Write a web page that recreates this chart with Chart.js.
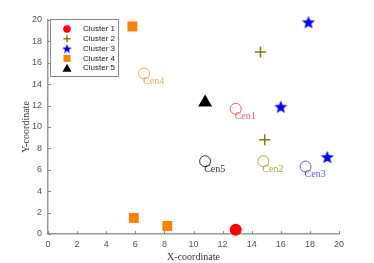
<!DOCTYPE html>
<html>
<head>
<meta charset="utf-8">
<script src="https://cdn.jsdelivr.net/npm/chart.js@4"></script>
<style>
  html, body { margin: 0; padding: 0; background: #fff; }
  #wrap { width: 374px; height: 263px; }
</style>
</head>
<body>
<div id="wrap"><canvas id="scatterChart"></canvas></div>
<script>
// Cluster points
const cluster1X = [12.9];
const cluster1Y = [0.4];
const cluster2X = [14.6, 14.9];
const cluster2Y = [17.0, 8.8];
const cluster3X = [17.9, 16.0, 19.2];
const cluster3Y = [19.8, 11.9, 7.2];
const cluster4X = [5.8, 5.9, 8.2];
const cluster4Y = [19.4, 1.5, 0.75];
const cluster5X = [10.8];
const cluster5Y = [12.3];

// Centroids
const centroidLabels = ["Cen1", "Cen2", "Cen3", "Cen4", "Cen5"];
const centroidX = [12.9, 14.8, 17.7, 6.6, 10.8];
const centroidY = [11.7, 6.8, 6.3, 15.0, 6.8];

const clusterLabels = ["Cluster 1", "Cluster 2", "Cluster 3", "Cluster 4", "Cluster 5"];
const clusterColors = ["#ff0000", "#808000", "#0000ff", "#ff8000", "#000000"];
const centroidColors = ["#ff5a5a", "#a8a840", "#5a5aff", "#ffa04a", "#333333"];

const xTicks = [0, 2, 4, 6, 8, 10, 12, 14, 16, 18, 20];
const yTicks = [0, 2, 4, 6, 8, 10, 12, 14, 16, 18, 20];

function toPoints(xs, ys) {
  return xs.map((x, i) => ({ x: x, y: ys[i] }));
}

// filled five-point star for cluster 3
function makeStar(size, color) {
  const c = document.createElement("canvas");
  c.width = size;
  c.height = size;
  const g = c.getContext("2d");
  const cx = size / 2, cy = size / 2 + size * 0.05;
  const outer = size / 2, inner = outer * 0.42;
  g.beginPath();
  for (let i = 0; i < 10; i++) {
    const r = i % 2 === 0 ? outer : inner;
    const a = -Math.PI / 2 + i * Math.PI / 5;
    g.lineTo(cx + r * Math.cos(a), cy + r * Math.sin(a));
  }
  g.closePath();
  g.fillStyle = color;
  g.fill();
  return c;
}

const bigStar = makeStar(14, clusterColors[2]);
const smallStar = makeStar(10, clusterColors[2]);

// Draws the legend box, the centroid labels and inward ticks
const overlayPlugin = {
  id: "overlay",
  afterDatasetsDraw(chart) {
    const ctx = chart.ctx;
    const xs = chart.scales.x, ys = chart.scales.y;
    ctx.save();

    // inward tick marks
    ctx.strokeStyle = "#8a8a8a";
    ctx.lineWidth = 1;
    xTicks.forEach((t) => {
      const px = Math.round(xs.getPixelForValue(t)) + 0.5;
      ctx.beginPath();
      ctx.moveTo(px, ys.bottom);
      ctx.lineTo(px, ys.bottom - 3);
      ctx.stroke();
    });
    yTicks.forEach((t) => {
      const py = Math.round(ys.getPixelForValue(t)) + 0.5;
      ctx.beginPath();
      ctx.moveTo(xs.left, py);
      ctx.lineTo(xs.left + 3, py);
      ctx.stroke();
    });

    // centroid labels
    ctx.font = "10px 'Liberation Serif', 'Times New Roman', serif";
    ctx.textAlign = "left";
    ctx.textBaseline = "top";
    centroidLabels.forEach((lab, i) => {
      const px = xs.getPixelForValue(centroidX[i]);
      const py = ys.getPixelForValue(centroidY[i]);
      ctx.fillStyle = centroidColors[i];
      ctx.fillText(lab, px - 1, py + 3);
    });

    // legend
    const bx = 50.5, by = 19.5, bw = 68, bh = 57;
    ctx.fillStyle = "#ffffff";
    ctx.fillRect(bx, by, bw, bh);
    ctx.strokeStyle = "#8a8a8a";
    ctx.strokeRect(bx, by, bw, bh);
    ctx.font = "8px 'Liberation Sans', Arial, sans-serif";
    ctx.textBaseline = "middle";
    clusterLabels.forEach((lab, i) => {
      const ly = 29 + i * 9.8;
      const mx = 67;
      ctx.fillStyle = clusterColors[i];
      ctx.strokeStyle = clusterColors[i];
      if (i === 0) {
        ctx.beginPath();
        ctx.arc(mx, ly, 3.8, 0, Math.PI * 2);
        ctx.fill();
      } else if (i === 1) {
        ctx.lineWidth = 1.5;
        ctx.beginPath();
        ctx.moveTo(mx - 3.5, ly); ctx.lineTo(mx + 3.5, ly);
        ctx.moveTo(mx, ly - 3.5); ctx.lineTo(mx, ly + 3.5);
        ctx.stroke();
      } else if (i === 2) {
        ctx.drawImage(smallStar, mx - 5, ly - 5);
      } else if (i === 3) {
        ctx.fillRect(mx - 3.5, ly - 3.5, 7, 7);
      } else {
        ctx.beginPath();
        ctx.moveTo(mx, ly - 4.5);
        ctx.lineTo(mx + 4.5, ly + 3.5);
        ctx.lineTo(mx - 4.5, ly + 3.5);
        ctx.closePath();
        ctx.fill();
      }
      ctx.fillStyle = "#222222";
      ctx.fillText(lab, 83, ly);
    });

    ctx.restore();
  },
};

const ctx = document.getElementById("scatterChart").getContext("2d");

new Chart(ctx, {
  type: "scatter",
  data: {
    datasets: [
      {
        label: clusterLabels[0],
        data: toPoints(cluster1X, cluster1Y),
        pointStyle: "circle",
        pointRadius: 6,
        backgroundColor: clusterColors[0],
        borderColor: clusterColors[0],
        borderWidth: 0,
      },
      {
        label: clusterLabels[1],
        data: toPoints(cluster2X, cluster2Y),
        pointStyle: "cross",
        pointRadius: 5.5,
        backgroundColor: clusterColors[1],
        borderColor: clusterColors[1],
        borderWidth: 1.5,
      },
      {
        label: clusterLabels[2],
        data: toPoints(cluster3X, cluster3Y),
        pointStyle: bigStar,
        pointRadius: 7,
        backgroundColor: clusterColors[2],
        borderColor: clusterColors[2],
      },
      {
        label: clusterLabels[3],
        data: toPoints(cluster4X, cluster4Y),
        pointStyle: "rect",
        pointRadius: 7,
        backgroundColor: clusterColors[3],
        borderColor: clusterColors[3],
        borderWidth: 0,
      },
      {
        label: clusterLabels[4],
        data: toPoints(cluster5X, cluster5Y),
        pointStyle: "triangle",
        pointRadius: 8,
        backgroundColor: clusterColors[4],
        borderColor: clusterColors[4],
        borderWidth: 0,
      },
      {
        label: "Centroids",
        data: toPoints(centroidX, centroidY),
        pointStyle: "circle",
        pointRadius: 5.5,
        backgroundColor: "rgba(0,0,0,0)",
        borderColor: centroidColors,
        borderWidth: 1,
      },
    ],
  },
  options: {
    responsive: true,
    maintainAspectRatio: false,
    animation: false,
    events: [],
    clip: false,
    layout: { padding: { top: 20, right: 35, left: 0, bottom: 0 } },
    plugins: {
      legend: { display: false },
      tooltip: { enabled: false },
    },
    scales: {
      x: {
        type: "linear",
        min: 0,
        max: 20,
        afterBuildTicks: (scale) => { scale.ticks = xTicks.map((v) => ({ value: v })); },
        afterFit: (scale) => { scale.height = 29; },
        grid: { display: false, drawTicks: false },
        border: { display: true, color: "#9a9a9a", width: 1.5 },
        ticks: { color: "#555555", font: { size: 9, family: "'Liberation Sans', Arial, sans-serif" }, padding: 5 },
        title: {
          display: true,
          text: "X-coordinate",
          color: "#333333",
          font: { size: 10, family: "'Liberation Serif', 'Times New Roman', serif" },
          padding: { top: 0, bottom: 0 },
        },
      },
      y: {
        type: "linear",
        min: 0,
        max: 20,
        afterBuildTicks: (scale) => { scale.ticks = yTicks.map((v) => ({ value: v })); },
        afterFit: (scale) => { scale.width = 48; },
        grid: { display: false, drawTicks: false },
        border: { display: true, color: "#9a9a9a", width: 1.5 },
        ticks: { color: "#555555", font: { size: 9, family: "'Liberation Sans', Arial, sans-serif" }, padding: 6 },
        title: {
          display: true,
          text: "Y-coordinate",
          color: "#333333",
          font: { size: 10, family: "'Liberation Serif', 'Times New Roman', serif" },
          padding: { top: 20, bottom: 0 },
        },
      },
    },
  },
  plugins: [overlayPlugin],
});
</script>
</body>
</html>
